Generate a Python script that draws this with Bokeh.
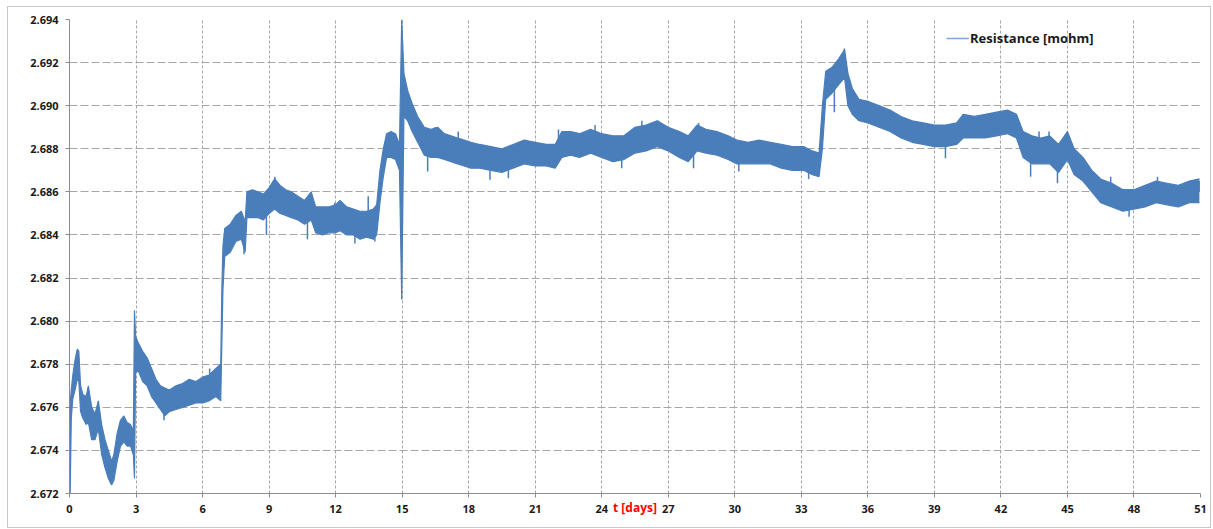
from bokeh.plotting import figure
from bokeh.models import Range1d, FixedTicker, Legend, LegendItem, ColumnDataSource
from bokeh.embed import file_html
from bokeh.resources import INLINE

# ---- data (noise band: lower / upper envelope) ----
t_days = [0.00, 0.03, 0.08, 0.15, 0.25, 0.35, 0.42, 0.50, 0.60, 0.75, 0.85, 1.00, 1.15, 1.30, 1.45,
          1.60, 1.75, 1.90, 2.00, 2.15, 2.30, 2.45, 2.60, 2.75, 2.88, 2.93, 2.98, 3.10, 3.30, 3.50,
          3.70, 3.90, 4.10, 4.30, 4.50, 4.80, 5.10, 5.40, 5.70, 6.00, 6.30, 6.60, 6.82, 6.87, 6.92,
          7.00, 7.25, 7.50, 7.75, 7.92, 8.00, 8.25, 8.50, 8.75, 9.00, 9.25, 9.50, 9.75, 10.00, 10.30,
          10.60, 10.90, 11.10, 11.40, 11.70, 12.00, 12.20, 12.50, 12.80, 13.10, 13.40, 13.70, 13.85,
          14.00, 14.15, 14.30, 14.50, 14.70, 14.88, 14.98, 15.08, 15.25, 15.45, 15.70, 16.00, 16.30,
          16.60, 16.90, 17.20, 17.50, 17.80, 18.10, 18.50, 19.00, 19.50, 20.00, 20.50, 21.00, 21.50,
          21.90, 22.20, 22.60, 23.00, 23.50, 24.00, 24.50, 25.00, 25.50, 26.00, 26.50, 27.00, 27.50,
          27.90, 28.30, 28.70, 29.20, 29.70, 30.10, 30.60, 31.10, 31.60, 32.10, 32.60, 33.10, 33.50,
          33.80, 33.95, 34.10, 34.40, 34.70, 34.95, 35.10, 35.30, 35.60, 36.00, 36.50, 37.00, 37.50,
          38.00, 38.50, 39.00, 39.50, 40.00, 40.30, 40.80, 41.30, 41.80, 42.30, 42.70, 43.00, 43.40,
          43.80, 44.20, 44.60, 45.00, 45.30, 45.70, 46.10, 46.50, 47.00, 47.50, 48.00, 48.50, 49.00,
          49.50, 50.00, 50.50, 50.95]

r_low = [2.6745, 2.6720, 2.6755, 2.6764, 2.6768, 2.6773, 2.6772, 2.6758, 2.6755, 2.6752, 2.6753, 2.6745,
         2.6745, 2.6750, 2.6738, 2.6732, 2.6727, 2.6724, 2.6726, 2.6735, 2.6742, 2.6744, 2.6742, 2.6742,
         2.6738, 2.6727, 2.6776, 2.6777, 2.6772, 2.6770, 2.6765, 2.6762, 2.6759, 2.6756, 2.6758, 2.6759,
         2.6760, 2.6761, 2.6762, 2.6762, 2.6763, 2.6765, 2.6763, 2.6790, 2.6815, 2.6830, 2.6832, 2.6837,
         2.6838, 2.6832, 2.6848, 2.6848, 2.6848, 2.6847, 2.6850, 2.6852, 2.6850, 2.6849, 2.6848, 2.6847,
         2.6845, 2.6847, 2.6841, 2.6840, 2.6841, 2.6841, 2.6842, 2.6840, 2.6840, 2.6838, 2.6839, 2.6838,
         2.6840, 2.6855, 2.6867, 2.6876, 2.6876, 2.6875, 2.6870, 2.6810, 2.6895, 2.6893, 2.6888, 2.6883,
         2.6877, 2.6876, 2.6876, 2.6875, 2.6874, 2.6873, 2.6872, 2.6871, 2.6871, 2.6870, 2.6869, 2.6871,
         2.6873, 2.6872, 2.6872, 2.6871, 2.6876, 2.6877, 2.6876, 2.6878, 2.6876, 2.6874, 2.6875, 2.6878,
         2.6879, 2.6881, 2.6879, 2.6876, 2.6874, 2.6879, 2.6878, 2.6877, 2.6875, 2.6873, 2.6873, 2.6873,
         2.6873, 2.6871, 2.6870, 2.6870, 2.6868, 2.6867, 2.6880, 2.6903, 2.6906, 2.6910, 2.6913, 2.6900,
         2.6896, 2.6893, 2.6892, 2.6890, 2.6888, 2.6885, 2.6883, 2.6882, 2.6881, 2.6881, 2.6882, 2.6885,
         2.6885, 2.6885, 2.6886, 2.6887, 2.6885, 2.6876, 2.6873, 2.6873, 2.6873, 2.6869, 2.6875, 2.6868,
         2.6865, 2.6860, 2.6855, 2.6853, 2.6851, 2.6852, 2.6853, 2.6855, 2.6854, 2.6853, 2.6855, 2.6855]

r_high = [2.6760, 2.6762, 2.6768, 2.6775, 2.6782, 2.6787, 2.6786, 2.6770, 2.6766, 2.6765, 2.6770, 2.6760,
          2.6757, 2.6763, 2.6752, 2.6745, 2.6740, 2.6735, 2.6738, 2.6748, 2.6754, 2.6756, 2.6753, 2.6752,
          2.6749, 2.6805, 2.6793, 2.6790, 2.6786, 2.6783, 2.6778, 2.6773, 2.6770, 2.6769, 2.6768, 2.6770,
          2.6771, 2.6773, 2.6772, 2.6774, 2.6775, 2.6778, 2.6780, 2.6815, 2.6835, 2.6843, 2.6845, 2.6849,
          2.6851, 2.6846, 2.6860, 2.6861, 2.6860, 2.6859, 2.6862, 2.6866, 2.6863, 2.6861, 2.6860, 2.6858,
          2.6856, 2.6860, 2.6853, 2.6853, 2.6853, 2.6854, 2.6856, 2.6853, 2.6852, 2.6851, 2.6851, 2.6852,
          2.6854, 2.6870, 2.6880, 2.6887, 2.6888, 2.6887, 2.6882, 2.6940, 2.6915, 2.6907, 2.6901, 2.6895,
          2.6890, 2.6889, 2.6890, 2.6887, 2.6886, 2.6885, 2.6884, 2.6883, 2.6882, 2.6881, 2.6880, 2.6882,
          2.6884, 2.6883, 2.6882, 2.6882, 2.6888, 2.6888, 2.6887, 2.6889, 2.6887, 2.6886, 2.6886, 2.6890,
          2.6891, 2.6893, 2.6890, 2.6888, 2.6886, 2.6891, 2.6889, 2.6888, 2.6886, 2.6884, 2.6883, 2.6884,
          2.6883, 2.6882, 2.6881, 2.6881, 2.6879, 2.6878, 2.6900, 2.6916, 2.6918, 2.6922, 2.6926, 2.6915,
          2.6908, 2.6903, 2.6902, 2.6900, 2.6898, 2.6895, 2.6893, 2.6892, 2.6891, 2.6891, 2.6892, 2.6896,
          2.6895, 2.6896, 2.6897, 2.6898, 2.6896, 2.6888, 2.6886, 2.6885, 2.6886, 2.6882, 2.6888, 2.6880,
          2.6876, 2.6870, 2.6866, 2.6864, 2.6861, 2.6861, 2.6863, 2.6865, 2.6864, 2.6863, 2.6865, 2.6866]

# isolated noise spikes (time, start value, tip value)
spike_t = [4.26, 6.32, 7.87, 8.88, 9.26, 10.73, 11.96, 12.87, 13.47, 13.77, 16.15, 16.48, 17.53, 18.96,
           19.79, 22.05, 23.70, 24.90, 25.81, 26.56, 28.14, 28.37, 30.18, 33.33, 34.49, 34.94, 39.50,
           40.33, 42.51, 43.34, 43.72, 44.17, 44.55, 46.95, 47.78, 49.06, 50.94]
spike_from = [2.6762, 2.6772, 2.6840, 2.6852, 2.6858, 2.6848, 2.6848, 2.6845, 2.6847, 2.6845, 2.6880, 2.6883,
              2.6880, 2.6875, 2.6875, 2.6880, 2.6884, 2.6880, 2.6885, 2.6887, 2.6880, 2.6885, 2.6878, 2.6873,
              2.6910, 2.6918, 2.6885, 2.6890, 2.6892, 2.6880, 2.6880, 2.6880, 2.6875, 2.6858, 2.6856, 2.6860,
              2.6860]
spike_tip = [2.6754, 2.6778, 2.6831, 2.6840, 2.6867, 2.6838, 2.6855, 2.6836, 2.6858, 2.6837, 2.68695, 2.6890,
             2.6888, 2.68656, 2.68663, 2.6889, 2.6891, 2.6871, 2.6893, 2.6893, 2.6871, 2.6892, 2.68695, 2.6866,
             2.6897, 2.69265, 2.68756, 2.6895, 2.6897, 2.6867, 2.6888, 2.6888, 2.6864, 2.6867, 2.68485, 2.6867,
             2.6865]

x_ticks = list(range(0, 52, 3))
y_ticks = [2.672, 2.674, 2.676, 2.678, 2.680, 2.682, 2.684, 2.686, 2.688, 2.690, 2.692, 2.694]
series_name = "Resistance [mohm]"
x_title = "t [days]"

FONT = "Open Sans"
BLUE = "#4a7ebb"

p = figure(width=1204, height=522, x_range=Range1d(0, 51), y_range=Range1d(2.672, 2.694),
           output_backend="svg", toolbar_location=None,
           min_border_left=61, min_border_right=12, min_border_top=12, min_border_bottom=36)
p.margin = (6, 0, 0, 7)
p.styles = {"border": "1px solid #c8c8c8", "box-sizing": "border-box"}
p.outline_line_color = None
p.background_fill_color = "white"
p.border_fill_color = "white"

src = ColumnDataSource(dict(t=t_days, lo=r_low, hi=r_high))
p.varea(x="t", y1="lo", y2="hi", source=src, fill_color=BLUE)
p.line(x="t", y="lo", source=src, line_color=BLUE, line_width=1.2)
p.line(x="t", y="hi", source=src, line_color=BLUE, line_width=1.2)
spk = ColumnDataSource(dict(t=spike_t, a=spike_from, b=spike_tip))
p.segment(x0="t", y0="a", x1="t", y1="b", source=spk, line_color=BLUE, line_width=1.5)
# renderer used only for the legend swatch (kept outside the visible range)
leg_line = p.line(x=[-5, -4], y=[2.66, 2.66], line_color="#7ea6d8", line_width=1.5)

# axes
for ax in (p.xaxis, p.yaxis):
    ax.axis_line_color = "#8c8c8c"
    ax.major_tick_line_color = "#8c8c8c"
    ax.minor_tick_line_color = None
    ax.major_tick_out = 4
    ax.major_tick_in = 0
    ax.major_label_text_font = FONT
    ax.major_label_text_font_style = "bold"
    ax.major_label_text_font_size = "11px"
    ax.major_label_text_color = "#1a1a1a"
p.xaxis.ticker = FixedTicker(ticks=x_ticks)
p.yaxis.ticker = FixedTicker(ticks=y_ticks)
p.yaxis.major_label_overrides = {v: "%.3f" % v for v in y_ticks}
p.xaxis.major_label_standoff = 7
p.yaxis.major_label_standoff = 7

p.xaxis.axis_label = x_title
p.xaxis.axis_label_text_color = "#ff0000"
p.xaxis.axis_label_text_font = FONT
p.xaxis.axis_label_text_font_style = "bold"
p.xaxis.axis_label_text_font_size = "12px"
p.xaxis.axis_label_standoff = -17

p.xgrid.ticker = FixedTicker(ticks=x_ticks)
p.ygrid.ticker = FixedTicker(ticks=y_ticks)
p.xgrid.grid_line_color = "#a6a6a6"
p.xgrid.grid_line_dash = "3 2"
p.ygrid.grid_line_color = "#a6a6a6"
p.ygrid.grid_line_dash = "8 3"

legend = Legend(items=[LegendItem(label=series_name, renderers=[leg_line])], location=(877, 445))
legend.border_line_color = None
legend.background_fill_alpha = 0
legend.padding = 0
legend.margin = 0
legend.glyph_width = 23
legend.label_standoff = 1
legend.label_text_font = FONT
legend.label_text_font_style = "bold"
legend.label_text_font_size = "13px"
legend.label_text_color = "#1a1a1a"
p.add_layout(legend)

open("out.html", "w").write(file_html(p, INLINE))
